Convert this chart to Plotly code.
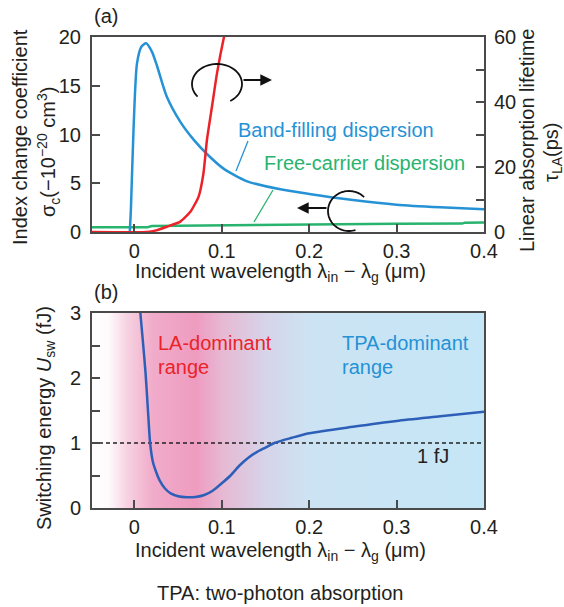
import numpy as np
import plotly.graph_objects as go

W, H = 564, 607

# ---------------- data ----------------
# Panel (a): band-filling dispersion (left axis, sigma_c in -1e-20 cm^3)
bf_x = [-0.0053, -0.004, -0.001, 0.003, 0.008, 0.0134, 0.02, 0.026, 0.037, 0.0526,
        0.068, 0.083, 0.102, 0.129, 0.167, 0.2, 0.25, 0.3, 0.35, 0.4]
bf_y = [0, 2.3, 10.5, 17.3, 19.0, 19.35, 18.5, 17.0, 13.9, 11.3,
        9.45, 8.0, 6.5, 5.2, 4.38, 3.9, 3.28, 2.8, 2.53, 2.33]

# Free-carrier dispersion (left axis)
fc_x = [-0.0485, 0.015, 0.02, 0.1, 0.2, 0.3, 0.375, 0.378, 0.4]
fc_y = [0.5, 0.5, 0.62, 0.7, 0.76, 0.84, 0.86, 0.96, 0.97]

# Linear absorption lifetime (right axis, ps)
la_x = [-0.0485, 0.0145, 0.025, 0.037, 0.0526, 0.064, 0.0735, 0.079, 0.083,
        0.0888, 0.0945, 0.1025, 0.106]
la_y = [0, 0, 0.5, 1.6, 3.2, 6.2, 10.9, 18.0, 28.3, 38.6, 48.8, 60.0, 64.0]

# Panel (b): switching energy (fJ)
sw_x = [0.0065, 0.0095, 0.0128, 0.016, 0.018, 0.021, 0.025, 0.029, 0.035, 0.042,
        0.05, 0.06, 0.07, 0.08, 0.09, 0.1, 0.11, 0.12, 0.13, 0.14, 0.15, 0.16,
        0.18, 0.2, 0.25, 0.3, 0.35, 0.4]
sw_y = [3.05, 2.6, 2.07, 1.4, 1.0, 0.72, 0.55, 0.42, 0.3, 0.22,
        0.18, 0.165, 0.17, 0.2, 0.27, 0.38, 0.5, 0.65, 0.77, 0.86, 0.93, 1.0,
        1.08, 1.15, 1.25, 1.34, 1.41, 1.48]

ref_level = 1.0  # 1 fJ line

x_ticks = [0, 0.1, 0.2, 0.3, 0.4]
x_range = [-0.0485, 0.4]

# background gradient stops (x position, colour)
bg_pos = [-0.0485, -0.03, -0.01, 0.02, 0.07, 0.1, 0.15, 0.2, 0.4]
bg_col = ["rgb(255,255,255)", "rgb(254,250,252)", "rgb(247,212,227)",
          "rgb(241,172,202)", "rgb(238,156,192)", "rgb(231,184,211)",
          "rgb(214,212,233)", "rgb(204,227,243)", "rgb(197,230,246)"]

# ---------------- style ----------------
FONT = "Arial, Liberation Sans, Helvetica, sans-serif"
TXT = "#231f20"
FRAME = "#4a4a4a"
BLUE = "rgb(38,146,214)"
RED = "rgb(235,35,40)"
GREEN = "rgb(40,180,110)"
DBLUE = "rgb(45,95,185)"

def P(x, y):
    return x / W, 1 - y / H

xa_dom = [92 / W, 484 / W]
ya_dom = [1 - 232 / H, 1 - 37 / H]
yb_dom = [1 - 508 / H, 1 - 313 / H]

fig = go.Figure()

# gradient background in panel (b)
gx = np.linspace(x_range[0], x_range[1], 300)
span = bg_pos[-1] - bg_pos[0]
cscale = [[(p - bg_pos[0]) / span, c] for p, c in zip(bg_pos, bg_col)]
fig.add_trace(go.Heatmap(x=gx, y=[0, 3], z=[gx, gx], colorscale=cscale,
                         zmin=bg_pos[0], zmax=bg_pos[-1], showscale=False,
                         zsmooth="best", hoverinfo="skip",
                         xaxis="x2", yaxis="y3"))

fig.add_trace(go.Scatter(x=fc_x, y=fc_y, mode="lines", line=dict(color=GREEN, width=2.5),
                         xaxis="x", yaxis="y", showlegend=False))
fig.add_trace(go.Scatter(x=bf_x, y=bf_y, mode="lines",
                         line=dict(color=BLUE, width=2.5, shape="spline", smoothing=0.7),
                         xaxis="x", yaxis="y", showlegend=False))
fig.add_trace(go.Scatter(x=la_x, y=la_y, mode="lines",
                         line=dict(color=RED, width=2.5, shape="spline", smoothing=0.5),
                         xaxis="x", yaxis="y2", showlegend=False))

fig.add_trace(go.Scatter(x=x_range, y=[ref_level, ref_level], mode="lines",
                         line=dict(color="#222", width=1.6, dash="4px,3px"),
                         xaxis="x2", yaxis="y3", showlegend=False))
fig.add_trace(go.Scatter(x=sw_x, y=sw_y, mode="lines",
                         line=dict(color=DBLUE, width=2.5, shape="spline", smoothing=0.7),
                         xaxis="x2", yaxis="y3", showlegend=False))

tickfont = dict(family=FONT, size=20, color=TXT)
common = dict(showline=True, linewidth=2, linecolor=FRAME, ticks="inside",
              ticklen=8, tickwidth=2, tickcolor=FRAME, showgrid=False,
              zeroline=False, tickfont=tickfont, automargin=False)

fig.update_layout(
    width=W, height=H,
    margin=dict(l=0, r=0, t=0, b=0),
    paper_bgcolor="white", plot_bgcolor="rgba(0,0,0,0)",
    font=dict(family=FONT, size=20, color=TXT),
    showlegend=False,
    xaxis=dict(domain=xa_dom, anchor="y", range=x_range, tickvals=x_ticks,
               mirror=True, ticklabelstandoff=0, **common),
    yaxis=dict(domain=ya_dom, anchor="x", range=[0, 20], tickvals=[0, 5, 10, 15, 20],
               mirror=True, ticklabelstandoff=5, **common),
    yaxis2=dict(overlaying="y", side="right", anchor="x", range=[0, 60],
                tickvals=[0, 20, 40, 60],
                minor=dict(tickvals=[10, 30, 50], ticks="inside", ticklen=8,
                           tickwidth=2, tickcolor=FRAME),
                ticklabelstandoff=4, **common),
    xaxis2=dict(domain=xa_dom, anchor="y3", range=x_range, tickvals=x_ticks,
                mirror=True, ticklabelstandoff=0, **common),
    yaxis3=dict(domain=yb_dom, anchor="x2", range=[0, 3], tickvals=[0, 1, 2, 3],
                minor=dict(tickvals=[0.5, 1.5, 2.5], ticks="inside", ticklen=8,
                           tickwidth=2, tickcolor=FRAME),
                mirror=True, ticklabelstandoff=5, **common),
)

anns = []
def txt(x, y, s, color=TXT, size=20, angle=0, xanchor="center"):
    px_, py_ = P(x, y)
    anns.append(dict(x=px_, y=py_, xref="paper", yref="paper", text=s, showarrow=False,
                     font=dict(family=FONT, size=size, color=color), textangle=angle,
                     xanchor=xanchor, yanchor="middle"))

xtitle = "Incident wavelength λ<sub>in</sub> − λ<sub>g</sub> (μm)"
txt(106, 16, "(a)")
txt(106, 292, "(b)")
txt(20, 137, "Index change coefficient", angle=-90)
txt(49, 152, "σ<sub>c</sub>(−10<sup>−20</sup> cm<sup>3</sup>)", angle=-90)
txt(527, 141, "Linear absorption lifetime", angle=-90)
txt(552, 153, "τ<sub>LA</sub>(ps)", angle=-90)
txt(280, 272, xtitle)
txt(45, 418, "Switching energy <i>U</i><sub>sw</sub> (fJ)", angle=-90)
txt(280, 551, xtitle)
txt(280, 593, "TPA: two-photon absorption")
txt(336, 130, "Band-filling dispersion", color=BLUE)
txt(364, 163, "Free-carrier dispersion", color=GREEN)
txt(156, 343, "LA-dominant", color=RED, xanchor="left")
txt(156, 367, "range", color=RED, xanchor="left")
txt(340, 343, "TPA-dominant", color=BLUE, xanchor="left")
txt(340, 367, "range", color=BLUE, xanchor="left")
txt(433, 456, "1 fJ")

# arrows (heads)
def arrow(hx, hy, tx, ty):
    px_, py_ = P(hx, hy)
    anns.append(dict(x=px_, y=py_, xref="paper", yref="paper", ax=tx - hx, ay=ty - hy,
                     axref="pixel", ayref="pixel", text="", showarrow=True,
                     arrowhead=2, arrowsize=1.3, arrowwidth=1.8, arrowcolor="#111"))

arrow(272, 80, 242, 80)
arrow(297, 208, 328, 208)
fig.update_layout(annotations=anns)

# leader lines and circular arcs
shapes = []
def seg(x0, y0, x1, y1, color):
    a, b = P(x0, y0)
    c, d = P(x1, y1)
    shapes.append(dict(type="line", xref="paper", yref="paper", x0=a, y0=b, x1=c, y1=d,
                       line=dict(color=color, width=1.3)))

seg(248, 141, 236, 171, BLUE)
seg(273, 190, 254, 222, GREEN)

def arc(cx, cy, rx, ry, a0, a1):
    angs = np.radians(np.linspace(a0, a1, 60))
    pts = [P(cx + rx * np.cos(t), cy - ry * np.sin(t)) for t in angs]
    path = "M " + " L ".join(f"{u:.5f},{v:.5f}" for u, v in pts)
    shapes.append(dict(type="path", xref="paper", yref="paper", path=path,
                       line=dict(color="#111", width=1.8)))

arc(217, 84, 25, 20, 219, -58)
arc(349, 211, 21, 20, 44, 288)
fig.update_layout(shapes=shapes)

fig.write_html("out.html")
